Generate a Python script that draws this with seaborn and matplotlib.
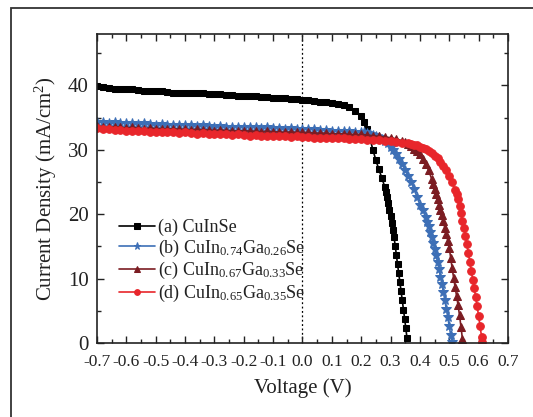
import matplotlib
matplotlib.use("Agg")
import matplotlib.pyplot as plt
import seaborn as sns
from matplotlib.patches import Rectangle
from matplotlib.ticker import MultipleLocator

# ---------------- data ----------------
flat_v = [-0.70, -0.68, -0.66, -0.64, -0.62, -0.60, -0.58, -0.56, -0.54, -0.52,
          -0.50, -0.48, -0.46, -0.44, -0.42, -0.40, -0.38, -0.36, -0.34, -0.32,
          -0.30, -0.28, -0.26, -0.24, -0.22, -0.20, -0.18, -0.16, -0.14, -0.12,
          -0.10, -0.08, -0.06, -0.04, -0.02, 0.00, 0.02, 0.04, 0.06, 0.08,
          0.10, 0.12, 0.14, 0.16, 0.18]

# (a) CuInSe
a_flat_j = [39.9, 39.8, 39.6, 39.5, 39.4, 39.5, 39.4, 39.3, 39.2, 39.2,
            39.1, 39.1, 39.0, 38.9, 38.9, 38.9, 38.8, 38.8, 38.8, 38.7,
            38.7, 38.6, 38.5, 38.5, 38.4, 38.4, 38.3, 38.3, 38.2, 38.2,
            38.1, 38.1, 38.0, 37.9, 37.9, 37.8, 37.8, 37.6, 37.5, 37.4,
            37.3, 37.1, 36.9, 36.6, 36.1]
a_knee_v = [0.20, 0.21, 0.22, 0.23, 0.24, 0.25, 0.26, 0.27, 0.28, 0.284, 0.288,
            0.292, 0.296, 0.300, 0.304, 0.308, 0.312, 0.316, 0.320, 0.324,
            0.328, 0.332, 0.336, 0.340, 0.344, 0.348, 0.352, 0.356]
a_knee_j = [35.3, 34.4, 33.2, 31.7, 30.0, 28.4, 27.0, 25.7, 24.3, 23.5, 22.6,
            21.7, 20.7, 19.7, 18.7, 17.6, 16.4, 15.1, 13.6, 12.2,
            10.8, 9.4, 8.0, 6.6, 5.2, 3.8, 2.3, 0.8]

# (b) CuIn0.74Ga0.26Se
b_flat_j = [34.4, 34.3, 34.2, 34.3, 34.1, 34.2, 34.1, 34.0, 34.1, 34.0,
            33.9, 34.0, 33.9, 33.8, 33.9, 33.8, 33.8, 33.7, 33.8, 33.7,
            33.6, 33.7, 33.6, 33.6, 33.5, 33.6, 33.5, 33.5, 33.4, 33.5,
            33.4, 33.4, 33.3, 33.4, 33.3, 33.3, 33.2, 33.2, 33.1, 33.1,
            33.0, 33.0, 32.9, 32.9, 32.8]
b_knee_v = [0.20, 0.21, 0.22, 0.23, 0.24, 0.25, 0.26, 0.27, 0.28, 0.29, 0.30,
            0.31, 0.32, 0.33, 0.34, 0.35, 0.36, 0.37, 0.38, 0.39, 0.40, 0.41,
            0.42, 0.425, 0.43, 0.435, 0.44, 0.445, 0.45, 0.455, 0.46, 0.465,
            0.47, 0.475, 0.48, 0.485, 0.49, 0.495, 0.50, 0.505, 0.51]
b_knee_j = [32.8, 32.7, 32.6, 32.4, 32.3, 32.1, 32.0, 31.7, 31.4, 31.0, 30.5,
            30.0, 29.3, 28.6, 27.8, 26.9, 26.0, 25.0, 23.9, 22.7, 21.5, 20.6,
            19.5, 18.8, 18.1, 17.3, 16.5, 15.6, 14.6, 13.6, 12.6, 11.5,
            10.3, 9.1, 7.9, 6.6, 5.3, 4.0, 2.6, 1.2, 0.1]

# (c) CuIn0.67Ga0.33Se
c_flat_j = [33.7, 33.6, 33.5, 33.6, 33.5, 33.4, 33.5, 33.4, 33.3, 33.4,
            33.3, 33.3, 33.2, 33.3, 33.2, 33.2, 33.1, 33.2, 33.1, 33.1,
            33.0, 33.1, 33.0, 33.0, 32.9, 33.0, 32.9, 32.9, 32.8, 32.9,
            32.8, 32.8, 32.7, 32.8, 32.7, 32.7, 32.7, 32.6, 32.6, 32.6,
            32.5, 32.5, 32.5, 32.4, 32.4]
c_knee_v = [0.20, 0.22, 0.24, 0.26, 0.28, 0.30, 0.32, 0.34, 0.35, 0.36, 0.37,
            0.38, 0.39, 0.40, 0.41, 0.42, 0.43, 0.44, 0.445, 0.45, 0.455, 0.46,
            0.465, 0.47, 0.475, 0.48, 0.485, 0.49, 0.495, 0.50, 0.505, 0.51,
            0.515, 0.52, 0.525, 0.53, 0.535, 0.54, 0.545]
c_knee_j = [32.4, 32.3, 32.2, 32.1, 32.0, 31.9, 31.7, 31.4, 31.2, 30.9, 30.6,
            30.2, 29.8, 29.3, 28.6, 27.8, 26.8, 25.5, 24.7, 23.9, 23.1, 22.3,
            21.5, 20.7, 19.9, 18.9, 17.9, 16.9, 15.9, 14.8, 13.2, 11.6,
            10.1, 8.7, 7.3, 5.9, 4.3, 2.5, 0.6]

# (d) CuIn0.65Ga0.35Se
d_flat_j = [33.4, 33.2, 33.2, 33.1, 33.1, 33.0, 32.9, 33.0, 32.9, 32.8,
            32.8, 32.7, 32.8, 32.7, 32.6, 32.7, 32.6, 32.5, 32.6, 32.5,
            32.5, 32.4, 32.4, 32.3, 32.4, 32.3, 32.2, 32.3, 32.2, 32.2,
            32.1, 32.2, 32.1, 32.0, 32.1, 32.0, 32.0, 31.9, 31.9, 31.9,
            31.8, 31.8, 31.8, 31.7, 31.7]
d_knee_v = [0.20, 0.22, 0.24, 0.26, 0.28, 0.30, 0.32, 0.34, 0.36, 0.37, 0.38,
            0.39, 0.40, 0.41, 0.42, 0.43, 0.44, 0.45, 0.46, 0.47, 0.48, 0.49,
            0.50, 0.51, 0.52, 0.525, 0.53, 0.535, 0.54, 0.545, 0.55, 0.555,
            0.56, 0.565, 0.57, 0.575, 0.58, 0.585, 0.59, 0.595, 0.60, 0.605,
            0.61, 0.612]
d_knee_j = [31.7, 31.6, 31.6, 31.5, 31.4, 31.3, 31.2, 31.1, 31.0, 30.9, 30.8,
            30.7, 30.5, 30.3, 30.1, 29.8, 29.5, 29.1, 28.7, 28.1, 27.5, 26.8,
            26.0, 25.0, 23.8, 23.1, 22.3, 21.3, 20.2, 19.0, 17.8, 16.6,
            15.3, 14.0, 12.6, 11.2, 9.8, 8.5, 7.1, 5.7, 4.2, 2.6,
            1.0, 0.2]

labels = ["(a) CuInSe",
          r"(b) CuIn$_{\mathrm{0.74}}$Ga$_{\mathrm{0.26}}$Se",
          r"(c) CuIn$_{\mathrm{0.67}}$Ga$_{\mathrm{0.33}}$Se",
          r"(d) CuIn$_{\mathrm{0.65}}$Ga$_{\mathrm{0.35}}$Se"]
x_ticks = [-0.7, -0.6, -0.5, -0.4, -0.3, -0.2, -0.1, 0.0, 0.1, 0.2, 0.3, 0.4, 0.5, 0.6, 0.7]
y_ticks = [0, 10, 20, 30, 40]

# ---------------- style ----------------
sns.set_style("ticks")
plt.rcParams["font.family"] = ["Liberation Serif", "DejaVu Serif"]
plt.rcParams["mathtext.fontset"] = "custom"
plt.rcParams["mathtext.rm"] = "Liberation Serif"
plt.rcParams["mathtext.it"] = "Liberation Serif:italic"

fig = plt.figure(figsize=(5.33, 4.17), dpi=100)
ax = fig.add_axes([0.182, 0.1775, 0.771, 0.741])

series = [
    (flat_v + a_knee_v, a_flat_j + a_knee_j, "#000000", "s", 5.0),
    (flat_v + b_knee_v, b_flat_j + b_knee_j, "#3d6fb6", "*", 7.0),
    (flat_v + c_knee_v, c_flat_j + c_knee_j, "#7b1c22", "^", 6.0),
    (flat_v + d_knee_v, d_flat_j + d_knee_j, "#e8262b", "o", 5.5),
]
for (v, j, col, mk, ms), lab in zip(series, labels):
    sns.lineplot(x=v, y=j, ax=ax, color=col, marker=mk, markersize=ms,
                 markeredgecolor=col, linewidth=1.2, label=lab, sort=False)

ax.axvline(0.0, color="black", linestyle=(0, (1.5, 2)), linewidth=0.9, zorder=0)

ax.set_xlim(-0.7, 0.7)
ax.set_ylim(0, 48)
ax.set_xticks(x_ticks)
ax.set_xticklabels([f"{t:.1f}" for t in x_ticks])
ax.set_yticks(y_ticks)
ax.xaxis.set_minor_locator(MultipleLocator(0.05))
ax.yaxis.set_minor_locator(MultipleLocator(5))
ax.tick_params(which="both", direction="in", top=True, right=True, width=1.0, colors="#222222")
ax.tick_params(which="major", length=5)
ax.tick_params(which="minor", length=3)
ax.tick_params(axis="x", labelsize=12.5, pad=8)
ax.tick_params(axis="y", labelsize=15, pad=6)
for lbl in ax.get_xticklabels() + ax.get_yticklabels():
    lbl.set_color("#222222")
for s in ax.spines.values():
    s.set_linewidth(1.2)
    s.set_color("#222222")

ax.set_xlabel("Voltage (V)", fontsize=15, color="#222222", labelpad=6)
ax.set_ylabel("Current Density (mA/cm$^{2}$)", fontsize=15, color="#222222", labelpad=6)

leg = ax.legend(loc="upper left", bbox_to_anchor=(0.035, 0.425), frameon=False,
                fontsize=13, handlelength=2.0, handletextpad=0.2, labelspacing=0.08,
                borderaxespad=0.0, markerscale=0.75)
for t in leg.get_texts():
    t.set_color("#222222")

fig.patches.append(Rectangle((11 / 533, -0.1), 1.2, 1.081, transform=fig.transFigure,
                             fill=False, linewidth=1.3, edgecolor="#333333"))

fig.savefig("out.png", dpi=100)
